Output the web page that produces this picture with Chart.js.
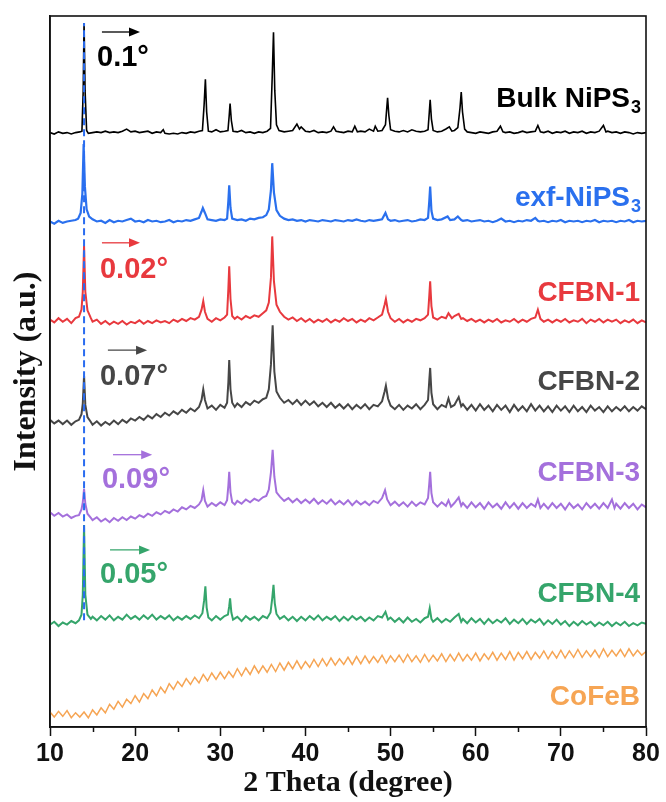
<!DOCTYPE html>
<html>
<head>
<meta charset="utf-8">
<script src="https://cdn.jsdelivr.net/npm/chart.js@4.4.1/dist/chart.umd.min.js"></script>
<style>
  html, body { margin: 0; padding: 0; background: #fff; }
  canvas { display: block; }
</style>
</head>
<body>
<canvas id="xrdChart" width="666" height="802"></canvas>
<script>
// XRD patterns, [2theta, relative intensity] (a.u.), stacked with offsets below
const bulkNiPS3 = [[10,0.1],[10.5,-0.1],[11,0.2],[11.5,0],[12,0.1],[12.5,-0.1],[13,0.1],[13.5,0.2],
  [13.75,0.3],[13.9,6],[14,15.5],[14.12,6],[14.3,0.4],
  [14.5,0],[15,0.1],[15.5,0.2],[16,0.1],[16.5,0.3],[17,0.1],[17.5,0.2],[18,0.1],[18.5,0.3],[19,0.6],[19.5,0.2],[20,0.3],[20.5,0.1],[21,0.2],[21.5,0.3],[22,0],[22.5,0.2],[23,0.1],[23.3,0.5],[23.5,0],[24,-0.1],[24.5,0],[25,-0.1],[25.5,0.1],[26,0],[26.5,0.2],[27,0.1],[27.5,0.3],
  [27.9,0.4],[28.1,4],[28.25,7.6],[28.4,3],[28.6,0.3],
  [29,0.2],[29.5,0.5],[30,0.2],[30.5,0.3],
  [30.9,0.4],[31.05,2.5],[31.15,4.2],[31.3,1.8],[31.5,0.3],
  [32,0.2],[32.5,0.4],[33,0.1],[33.5,0.2],[34,0],[34.5,0.2],[35,0.1],[35.5,0.3],
  [35.9,0.7],[36.1,8],[36.25,14.2],[36.4,6],[36.6,1.2],[36.9,0.4],
  [37.5,0.2],[38,0.3],[38.5,0.4],[39,1.3],[39.3,0.6],[39.5,0.9],[40,0.3],[40.5,0.2],[41,0.4],[41.5,0.1],[42,0.2],[42.5,0.1],[43,0.3],[43.3,0.9],[43.6,0.3],[44,0.2],[44.5,0.1],[45,0.3],[45.5,0.2],[45.8,1.0],[46.1,0.2],[46.5,0.3],[47,0.2],[47.5,0.6],[48,0.3],[48.2,1.0],[48.5,0.3],[49,0.4],
  [49.4,1.2],[49.55,3.5],[49.65,5.0],[49.8,2.5],[50,0.5],
  [50.5,0.3],[51,0.2],[51.5,0.4],[52,0.2],[52.5,0.5],[53,0.3],[53.5,0.2],[54,0.3],
  [54.4,0.5],[54.55,3],[54.65,4.7],[54.8,2],[55,0.4],
  [55.5,0.2],[56,0.3],[56.5,0.6],[56.9,0.9],[57.2,0.3],[57.5,0.4],[57.9,0.8],
  [58.15,3.5],[58.3,5.8],[58.45,3],[58.7,0.6],
  [59,0.2],[59.5,0.1],[60,0],[60.5,0.2],[61,0.1],[61.5,0],[62,0.2],[62.5,0.3],[62.9,1.0],[63.2,0.2],[63.5,0.1],[64,0.2],[64.5,0],[65,0.1],[65.5,0.3],[66,0.1],[66.5,0.2],[67,0.3],[67.3,1.1],[67.6,0.2],[68,0.1],[68.5,0.3],[69,0],[69.5,0.2],[70,0.1],[70.5,0.3],[71,0],[71.5,0.2],[72,0.1],[72.5,0.3],[73,0],[73.5,0.2],[74,0.1],[74.5,0.3],[75,1.1],[75.3,0.2],[75.5,0.3],[76,0.1],[76.5,0.2],[77,0],[77.5,0.2],[78,0.1],[78.5,-0.1],[79,0.1],[79.5,0],[80,0.1]];

const exfNiPS3 = [[10,0.1],[10.5,-0.2],[11,0.2],[11.5,-0.1],[12,0.1],[12.5,0.2],[13,0.3],[13.3,0.5],[13.6,1.3],[13.8,4],[13.95,11],[14.1,5],[14.3,1.8],[14.6,0.8],[15,0.4],[15.5,0.1],[16,0.2],[16.5,-0.1],[17,0.3],[17.5,0],[18,0.2],[18.5,0.1],[19,0.3],[19.5,0.5],[20,0.1],[20.5,0.2],[21,0],[21.5,0.3],[22,0.1],[22.5,0.2],[23,0],[23.5,0.1],[24,0.3],[24.5,0],[25,0.2],[25.5,0.1],[26,0.3],[26.5,0.2],[27,0.4],[27.5,0.6],[27.8,1.5],[27.95,2.0],[28.2,1.3],[28.5,0.4],[29,0.3],[29.5,0.2],[30,0.4],[30.5,0.3],[30.8,0.5],[30.95,3],[31.05,5.2],[31.2,2],[31.4,0.5],[32,0.3],[32.5,0.4],[33,0.2],[33.5,0.5],[34,0.4],[34.5,0.6],[35,0.7],[35.4,1.0],[35.7,1.8],[35.95,4.5],[36.1,8.3],[36.3,4.2],[36.6,1.7],[37,0.9],[37.5,0.5],[38,0.3],[38.5,0.4],[39,0.2],[39.5,0.3],[40,0.1],[40.5,0.3],[41,0.2],[41.5,0.1],[42,0.3],[42.5,0.2],[43,0.1],[43.5,0.3],[44,0.2],[44.5,0.1],[45,0.3],[45.5,0.2],[46,0.4],[46.5,0.2],[47,0.1],[47.5,0.3],[48,0.2],[48.5,0.3],[49,0.4],[49.4,1.3],[49.7,0.4],[50,0.2],[50.5,0.3],[51,0.1],[51.5,0.2],[52,0.3],[52.5,0.1],[53,0.2],[53.5,0.4],[54,0.3],[54.4,0.6],[54.55,3],[54.65,5],[54.8,1.6],[55,0.5],[55.5,0.3],[56,0.4],[56.7,0.8],[57,0.3],[57.5,0.4],[57.9,0.8],[58.3,0.3],[58.5,0.2],[59,0.3],[59.5,0.1],[60,0.2],[60.5,0.3],[61,0.1],[61.5,0.2],[62,0],[62.5,0.2],[63,0.5],[63.5,0.1],[64,0.2],[64.5,0],[65,0.2],[65.5,0.1],[66,0.3],[66.5,0.2],[67,0.6],[67.3,0.2],[67.5,0.1],[68,0.2],[68.5,0],[69,0.2],[69.5,0.1],[70,0.3],[70.5,0],[71,0.2],[71.5,0.1],[72,0.2],[72.5,0],[73,0.2],[73.5,0.1],[74,0.3],[74.5,0],[75,0.2],[75.5,0.1],[76,0.2],[76.5,0],[77,0.2],[77.5,0.1],[78,0.3],[78.5,0],[79,0.2],[79.5,0.1],[80,0.2]];

const cfbn1 = [[10,0.1],[10.5,-0.3],[11,0.3],[11.5,-0.2],[12,0.2],[12.5,-0.4],[13,0.3],[13.4,0.5],[13.7,1.5],[13.85,4],[14,10.5],[14.15,4],[14.4,1.4],[14.8,0.3],[15,-0.2],[15.5,0.1],[16,-0.5],[16.5,-0.1],[17,-0.6],[17.5,-0.2],[18,-0.5],[18.5,-0.1],[19,-0.6],[19.5,-0.2],[20,-0.4],[20.5,0],[21,-0.5],[21.5,-0.1],[22,-0.4],[22.5,0],[23,-0.3],[23.5,-0.1],[24,-0.4],[24.5,0.1],[25,-0.2],[25.5,0.2],[26,-0.1],[26.5,0.3],[27,0.1],[27.5,0.5],[27.8,1.5],[28,2.7],[28.2,1.2],[28.5,0.2],[29,-0.2],[29.5,0.3],[30,0],[30.5,0.4],[30.8,0.8],[30.95,4.5],[31.05,7.6],[31.2,3],[31.4,0.6],[31.7,0.2],[32,0.5],[32.5,0.1],[33,0.6],[33.5,0.3],[34,0.7],[34.5,0.5],[35,1.0],[35.4,1.4],[35.7,2.5],[35.95,6],[36.1,11.8],[36.3,5.5],[36.6,2.2],[37,1.2],[37.5,0.5],[38,0.1],[38.5,0.4],[39,-0.1],[39.5,0.3],[40,-0.2],[40.5,0.2],[41,-0.3],[41.5,0.1],[42,-0.2],[42.5,0.2],[43,-0.3],[43.5,0.1],[44,-0.2],[44.5,0.3],[45,-0.1],[45.5,0.2],[46,-0.3],[46.5,0.1],[47,-0.2],[47.5,0.3],[48,0],[48.5,0.4],[49,0.8],[49.3,2.2],[49.45,3.0],[49.7,1.2],[50,0.3],[50.5,-0.2],[51,0.2],[51.5,-0.3],[52,0.1],[52.5,-0.2],[53,0.2],[53.5,0],[54,0.3],[54.4,0.8],[54.55,3.5],[54.65,5.5],[54.8,2],[55,0.4],[55.5,0.1],[56,0.5],[56.5,0.3],[56.8,1.0],[57.2,0.3],[57.5,0.6],[58,0.9],[58.3,0.2],[58.5,0.3],[59,-0.1],[59.5,0.2],[60,-0.2],[60.5,0.1],[61,-0.3],[61.5,0.1],[62,-0.2],[62.5,0.2],[63,-0.3],[63.5,0],[64,-0.2],[64.5,0.2],[65,-0.3],[65.5,0.1],[66,-0.2],[66.5,0.2],[67,0.4],[67.3,1.5],[67.6,0.2],[68,-0.2],[68.5,0.1],[69,-0.3],[69.5,0.1],[70,-0.2],[70.5,0.2],[71,-0.3],[71.5,0],[72,-0.2],[72.5,0.2],[73,-0.4],[73.5,0.1],[74,-0.2],[74.5,0.2],[75,-0.3],[75.5,0.1],[76,-0.2],[76.5,0.1],[77,-0.4],[77.5,0],[78,-0.3],[78.5,0.1],[79,-0.4],[79.5,0],[80,-0.3]];

const cfbn2 = [[10,0.2],[10.5,-0.3],[11,0.1],[11.5,-0.4],[12,0.1],[12.5,-0.5],[13,0],[13.4,0.2],[13.7,1.0],[13.85,2.5],[14,6.4],[14.15,2.3],[14.4,0.6],[14.8,-0.1],[15,-0.5],[15.5,0],[16,-0.6],[16.5,-0.1],[17,-0.5],[17.5,0.1],[18,-0.4],[18.5,0.2],[19,-0.2],[19.5,0.4],[20,0.1],[20.5,0.6],[21,0.2],[21.5,0.8],[22,0.4],[22.5,1.0],[23,0.6],[23.5,1.2],[24,0.8],[24.5,1.4],[25,1.0],[25.5,1.6],[26,1.2],[26.5,1.8],[27,1.4],[27.5,2.0],[27.8,3.0],[28,4.5],[28.2,3.0],[28.5,1.8],[29,2.2],[29.5,1.6],[30,2.3],[30.5,1.9],[30.8,2.6],[30.95,5.5],[31.05,8.6],[31.2,4.5],[31.4,2.6],[31.7,2.0],[32,2.5],[32.5,2.0],[33,2.7],[33.5,2.3],[34,2.9],[34.5,2.6],[35,3.1],[35.4,3.3],[35.7,4.5],[35.95,8],[36.15,13.5],[36.35,7],[36.6,4.2],[37,3.3],[37.5,2.6],[38,3.0],[38.5,2.4],[39,3.0],[39.5,2.3],[40,2.9],[40.5,2.3],[41,2.8],[41.5,2.1],[42,2.6],[42.5,2.0],[43,2.6],[43.5,1.9],[44,2.4],[44.5,1.8],[45,2.4],[45.5,1.7],[46,2.3],[46.5,1.8],[47,2.4],[47.5,1.7],[48,2.3],[48.5,2.1],[49,2.8],[49.3,4.2],[49.45,5.0],[49.7,3.2],[50,2.2],[50.5,1.7],[51,2.3],[51.5,1.6],[52,2.2],[52.5,1.8],[53,2.4],[53.5,1.7],[54,2.3],[54.4,3.0],[54.55,5.8],[54.65,7.5],[54.8,4.0],[55,2.4],[55.5,1.7],[56,2.3],[56.5,2.0],[56.8,3.2],[57.1,2.0],[57.5,2.3],[58,3.4],[58.3,2.1],[58.5,2.4],[59,1.6],[59.5,2.3],[60,1.5],[60.5,2.4],[61,1.6],[61.5,2.2],[62,1.4],[62.5,2.3],[63,1.6],[63.5,2.2],[64,1.3],[64.5,2.3],[65,1.5],[65.5,2.1],[66,1.4],[66.5,2.4],[67,1.5],[67.5,2.2],[68,1.4],[68.5,2.1],[69,1.3],[69.5,2.2],[70,1.5],[70.5,2.1],[71,1.3],[71.5,2.2],[72,1.4],[72.5,2.0],[73,1.3],[73.5,2.2],[74,1.5],[74.5,2.0],[75,1.3],[75.5,2.1],[76,1.4],[76.5,2.0],[77,1.5],[77.5,2.1],[78,1.4],[78.5,2.0],[79,1.5],[79.5,2.1],[80,1.7]];

const cfbn3 = [[10,0.2],[10.5,-0.3],[11,0.1],[11.5,-0.4],[12,-0.1],[12.5,-0.6],[13,-0.3],[13.4,-0.2],[13.7,0.6],[13.85,1.6],[14,3.5],[14.15,1.4],[14.4,0],[14.8,-0.6],[15,-0.9],[15.5,-0.5],[16,-1.1],[16.5,-0.7],[17,-1.2],[17.5,-0.6],[18,-1.0],[18.5,-0.5],[19,-0.9],[19.5,-0.4],[20,-0.7],[20.5,-0.2],[21,-0.5],[21.5,0],[22,-0.3],[22.5,0.2],[23,-0.1],[23.5,0.4],[24,0.1],[24.5,0.6],[25,0.3],[25.5,0.9],[26,0.6],[26.5,1.1],[27,0.8],[27.5,1.3],[27.8,1.9],[28,3.3],[28.2,1.8],[28.5,1.0],[29,1.5],[29.5,1.1],[30,1.6],[30.5,1.2],[30.8,1.9],[30.95,4.0],[31.05,5.9],[31.2,3.0],[31.4,1.6],[31.7,1.3],[32,1.8],[32.5,1.4],[33,2.0],[33.5,1.6],[34,2.1],[34.5,1.8],[35,2.3],[35.4,2.5],[35.7,3.4],[35.95,5.8],[36.15,9.0],[36.35,5.2],[36.6,3.0],[37,2.4],[37.5,1.8],[38,2.2],[38.5,1.6],[39,2.1],[39.5,1.5],[40,2.0],[40.5,1.5],[41,2.1],[41.5,1.4],[42,1.9],[42.5,1.4],[43,2.0],[43.5,1.3],[44,1.8],[44.5,1.3],[45,1.9],[45.5,1.2],[46,1.8],[46.5,1.3],[47,1.7],[47.5,1.2],[48,1.8],[48.5,1.5],[49,2.2],[49.35,3.3],[49.6,2.0],[50,1.2],[50.5,1.7],[51,1.1],[51.5,1.6],[52,1.0],[52.5,1.7],[53,1.1],[53.5,1.6],[54,1.3],[54.4,2.2],[54.55,4.3],[54.65,5.9],[54.8,2.9],[55,1.6],[55.5,1.0],[56,1.6],[56.5,1.1],[56.8,1.9],[57.1,1.0],[57.5,1.5],[58,2.3],[58.3,1.1],[58.5,1.5],[59,0.8],[59.5,1.6],[60,0.9],[60.5,1.5],[61,0.7],[61.5,1.6],[62,0.9],[62.5,1.4],[63,0.7],[63.5,1.6],[64,0.8],[64.5,1.5],[65,0.7],[65.5,1.5],[66,0.8],[66.5,1.4],[67,1.0],[67.3,2.0],[67.6,0.8],[68,1.4],[68.5,0.7],[69,1.5],[69.5,0.8],[70,1.4],[70.5,0.6],[71,1.5],[71.5,0.8],[72,1.3],[72.5,0.6],[73,1.5],[73.5,0.8],[74,1.4],[74.5,0.7],[75,1.5],[75.5,0.8],[76,2.0],[76.3,0.8],[76.5,1.4],[77,0.7],[77.5,1.5],[78,0.8],[78.5,1.4],[79,0.6],[79.5,1.3],[80,0.9]];

const cfbn4 = [[10,-0.2],[10.5,0.2],[11,-0.4],[11.5,0.1],[12,-0.2],[12.5,0.3],[13,0],[13.4,0.4],[13.7,1.2],[13.85,4],[14,13.8],[14.15,4],[14.4,1.2],[14.8,0.6],[15,0.9],[15.5,0.4],[16,1.0],[16.5,0.5],[17,1.1],[17.5,0.4],[18,0.9],[18.5,0.5],[19,1.2],[19.5,0.6],[20,1.0],[20.5,0.5],[21,1.1],[21.5,0.6],[22,1.2],[22.5,0.5],[23,1.0],[23.5,0.6],[24,1.1],[24.5,0.4],[25,0.9],[25.5,0.5],[26,1.0],[26.5,0.6],[27,1.1],[27.5,0.7],[27.9,1.4],[28.1,3.2],[28.25,5.2],[28.4,2.2],[28.6,0.8],[29,0.4],[29.5,1.0],[30,0.5],[30.5,1.0],[30.9,1.2],[31.05,2.4],[31.15,3.5],[31.3,1.5],[31.5,0.5],[32,0.9],[32.5,0.3],[33,1.0],[33.5,0.5],[34,0.9],[34.5,0.4],[35,1.0],[35.5,0.7],[35.9,1.5],[36.1,3.5],[36.25,5.4],[36.4,2.8],[36.6,1.3],[37,0.6],[37.5,1.0],[38,0.4],[38.5,0.9],[39,0.3],[39.5,0.9],[40,0.4],[40.5,1.0],[41,0.5],[41.5,1.1],[42,0.4],[42.5,0.9],[43,0.5],[43.5,1.0],[44,0.3],[44.5,0.9],[45,0.4],[45.5,1.0],[46,0.5],[46.5,0.9],[47,0.3],[47.5,0.8],[48,0.4],[48.5,1.0],[49,0.8],[49.4,1.6],[49.7,0.5],[50,0.8],[50.5,0.2],[51,0.7],[51.5,0.1],[52,0.8],[52.5,0.2],[53,0.6],[53.5,0.1],[54,0.7],[54.4,0.9],[54.6,2.1],[54.8,0.6],[55,0.2],[55.5,0.7],[56,0.1],[56.5,0.6],[57,0.2],[57.5,0.8],[58,1.3],[58.3,0.2],[58.5,0.6],[59,0],[59.5,0.7],[60,0.1],[60.5,0.6],[61,-0.1],[61.5,0.6],[62,0],[62.5,0.5],[63,0.1],[63.5,0.7],[64,-0.1],[64.5,0.5],[65,0],[65.5,0.6],[66,-0.1],[66.5,0.5],[67,0.1],[67.5,0.6],[68,-0.2],[68.5,0.4],[69,-0.1],[69.5,0.5],[70,-0.2],[70.5,0.3],[71,-0.4],[71.5,0.2],[72,-0.3],[72.5,0.3],[73,-0.2],[73.5,0.2],[74,-0.4],[74.5,0.1],[75,-0.3],[75.5,0.2],[76,-0.4],[76.5,0.1],[77,-0.3],[77.5,0.2],[78,-0.4],[78.5,0],[79,-0.3],[79.5,0.1],[80,-0.1]];

const coFeB = [[10,0.3],[10.5,-0.4],[11,0.4],[11.5,-0.3],[12,0.5],[12.5,-0.5],[13,0.2],[13.5,-0.4],[14,0.3],[14.5,-0.5],[15,0.6],[15.5,-0.1],[16,0.9],[16.5,0.2],[17,1.4],[17.5,0.7],[18,1.8],[18.5,1.0],[19,2.1],[19.5,1.5],[20,2.6],[20.5,1.7],[21,2.9],[21.5,2.2],[22,3.4],[22.5,2.6],[23,3.8],[23.5,3.0],[24,4.3],[24.5,3.5],[25,4.6],[25.5,3.9],[26,5.0],[26.5,4.2],[27,5.2],[27.5,4.4],[28,5.6],[28.5,4.7],[29,5.8],[29.5,4.9],[30,5.9],[30.5,5.0],[31,6.0],[31.5,5.2],[32,6.4],[32.5,5.4],[33,6.5],[33.5,5.6],[34,6.8],[34.5,5.8],[35,6.8],[35.5,5.9],[36,7.0],[36.5,6.0],[37,7.2],[37.5,6.2],[38,7.3],[38.5,6.4],[39,7.5],[39.5,6.4],[40,7.4],[40.5,6.6],[41,7.7],[41.5,6.7],[42,7.8],[42.5,6.8],[43,7.9],[43.5,6.9],[44,7.8],[44.5,7.0],[45,8.0],[45.5,7.0],[46,8.1],[46.5,7.1],[47,8.2],[47.5,7.2],[48,8.1],[48.5,7.3],[49,8.3],[49.5,7.2],[50,8.2],[50.5,7.4],[51,8.3],[51.5,7.3],[52,8.4],[52.5,7.4],[53,8.2],[53.5,7.3],[54,8.4],[54.5,7.4],[55,8.3],[55.5,7.5],[56,8.5],[56.5,7.4],[57,8.4],[57.5,7.5],[58,8.6],[58.5,7.5],[59,8.4],[59.5,7.6],[60,8.6],[60.5,7.5],[61,8.5],[61.5,7.7],[62,8.7],[62.5,7.6],[63,8.6],[63.5,7.7],[64,8.8],[64.5,7.6],[65,8.7],[65.5,7.8],[66,8.8],[66.5,7.7],[67,8.7],[67.5,7.9],[68,8.9],[68.5,7.8],[69,8.8],[69.5,7.9],[70,9.0],[70.5,7.9],[71,8.9],[71.5,8.0],[72,9.1],[72.5,8.0],[73,8.9],[73.5,8.1],[74,9.0],[74.5,8.0],[75,9.2],[75.5,8.1],[76,9.0],[76.5,8.2],[77,9.1],[77.5,8.1],[78,9.2],[78.5,8.2],[79,9.0],[79.5,8.3],[80,8.8]];

const sampleNames = ['Bulk NiPS3', 'exf-NiPS3', 'CFBN-1', 'CFBN-2', 'CFBN-3', 'CFBN-4', 'CoFeB'];
const patterns = [bulkNiPS3, exfNiPS3, cfbn1, cfbn2, cfbn3, cfbn4, coFeB];
const offsets = [83.5, 71, 57.2, 43, 30, 14.6, 1.8];
const shifts = ['0.1°', null, '0.02°', '0.07°', '0.09°', '0.05°', null];
const refPeak = [[14, 15], [14, 99]];   // (001) reference position
const xTicks = [10, 20, 30, 40, 50, 60, 70, 80];

const colors = ['#000000', '#2a70ee', '#e8393e', '#464646', '#a470dc', '#35a56b', '#f6a554'];
const widths = [1.6, 2.2, 2, 2, 2, 2, 1.5];

// label placement (x in degree, y in a.u.)
const nameY = [88.3, 74.4, 61.0, 48.5, 35.7, 18.7, 4.2];
const shiftPos = [
  {tx: 15.52, ty: 94.1, ax1: 16.1, ax2: 20.57, ay: 97.75},
  null,
  {tx: 15.87, ty: 64.3, ax1: 16.1, ax2: 20.57, ay: 68.1},
  {tx: 15.87, ty: 49.2, ax1: 16.8, ax2: 21.4, ay: 53.0},
  {tx: 16.1, ty: 34.7, ax1: 17.4, ax2: 22.0, ay: 38.3},
  {tx: 15.87, ty: 21.4, ax1: 17.05, ax2: 21.75, ay: 24.9},
  null
];

const datasets = patterns.map((pts, i) => ({
  label: sampleNames[i],
  data: pts.map(p => ({x: p[0], y: p[1] + offsets[i]})),
  borderColor: colors[i],
  borderWidth: widths[i],
  pointRadius: 0,
  tension: 0,
  fill: false,
  order: i + 1
}));
datasets.push({
  label: 'ref',
  data: refPeak.map(p => ({x: p[0], y: p[1]})),
  borderColor: '#2a6cf0',
  borderWidth: 2,
  borderDash: [7, 4],
  pointRadius: 0,
  order: 0
});

const sansBold = "'Liberation Sans', Arial, sans-serif";
const serifBold = "'Liberation Serif', 'Times New Roman', serif";

const labelsPlugin = {
  id: 'xrdLabels',
  afterDatasetsDraw(chart) {
    const {ctx, chartArea, scales: {x, y}} = chart;
    ctx.save();
    // minor ticks
    ctx.strokeStyle = '#111';
    ctx.lineWidth = 1.5;
    for (let v = 15; v < 80; v += 10) {
      const px = Math.round(x.getPixelForValue(v)) + 0.5;
      ctx.beginPath();
      ctx.moveTo(px, chartArea.bottom);
      ctx.lineTo(px, chartArea.bottom + 5);
      ctx.stroke();
    }
    // frame
    ctx.lineWidth = 1.6;
    ctx.strokeRect(chartArea.left, chartArea.top, chartArea.right - chartArea.left, chartArea.bottom - chartArea.top);

    // sample names, right aligned
    const rightX = x.getPixelForValue(79.3);
    sampleNames.forEach((name, i) => {
      const cy = y.getPixelForValue(nameY[i]);
      ctx.fillStyle = colors[i];
      ctx.textBaseline = 'middle';
      if (name.endsWith('PS3')) {
        const main = name.slice(0, -1);
        ctx.font = 'bold 18px ' + sansBold;
        const subW = ctx.measureText('3').width;
        ctx.textAlign = 'right';
        ctx.fillText('3', rightX + 1, cy + 9);
        ctx.font = 'bold 28px ' + sansBold;
        ctx.fillText(main, rightX - subW, cy);
      } else {
        ctx.font = 'bold 28px ' + sansBold;
        ctx.textAlign = 'right';
        ctx.fillText(name, rightX, cy);
      }
    });

    // peak shift arrows and values
    shifts.forEach((txt, i) => {
      const pos = shiftPos[i];
      if (!txt || !pos) return;
      const c = colors[i];
      const x1 = x.getPixelForValue(pos.ax1), x2 = x.getPixelForValue(pos.ax2);
      const ay = y.getPixelForValue(pos.ay);
      ctx.strokeStyle = c;
      ctx.fillStyle = c;
      ctx.lineWidth = 1.3;
      ctx.beginPath();
      ctx.moveTo(x1, ay);
      ctx.lineTo(x2 - 8, ay);
      ctx.stroke();
      ctx.beginPath();
      ctx.moveTo(x2, ay);
      ctx.lineTo(x2 - 11, ay - 4.5);
      ctx.lineTo(x2 - 11, ay + 4.5);
      ctx.closePath();
      ctx.fill();
      ctx.font = 'bold 29px ' + sansBold;
      ctx.textAlign = 'left';
      ctx.textBaseline = 'middle';
      ctx.fillText(txt, x.getPixelForValue(pos.tx), y.getPixelForValue(pos.ty));
    });
    ctx.restore();
  }
};

new Chart(document.getElementById('xrdChart'), {
  type: 'line',
  data: { datasets: datasets },
  options: {
    responsive: false,
    animation: false,
    devicePixelRatio: 1,
    layout: { padding: { top: 16, right: 20, left: 0, bottom: 0 } },
    plugins: {
      legend: { display: false },
      tooltip: { enabled: false }
    },
    scales: {
      x: {
        type: 'linear',
        min: 10,
        max: 80,
        afterBuildTicks: (scale) => { scale.ticks = xTicks.map(v => ({value: v})); },
        ticks: {
          color: '#111',
          padding: 3,
          maxRotation: 0,
          autoSkip: false,
          font: { family: sansBold, weight: 'bold', size: 25 }
        },
        grid: {
          drawOnChartArea: false,
          drawTicks: true,
          tickLength: 9,
          tickWidth: 1.5,
          tickColor: '#111'
        },
        border: { display: true, color: '#111', width: 1.6 },
        title: {
          display: true,
          text: '2 Theta (degree)',
          color: '#111',
          font: { family: serifBold, weight: 'bold', size: 30 },
          padding: { top: 0, bottom: 1 }
        },
        afterFit: (scale) => { scale.height = 75; }
      },
      y: {
        min: 0,
        max: 100,
        ticks: { display: false },
        grid: { display: false },
        border: { display: true, color: '#111', width: 1.6 },
        title: {
          display: true,
          text: 'Intensity (a.u.)',
          color: '#111',
          font: { family: serifBold, weight: 'bold', size: 32 },
          padding: { top: 8, bottom: 0 }
        },
        afterFit: (scale) => { scale.width = 50; }
      }
    }
  },
  plugins: [labelsPlugin]
});
</script>
</body>
</html>
